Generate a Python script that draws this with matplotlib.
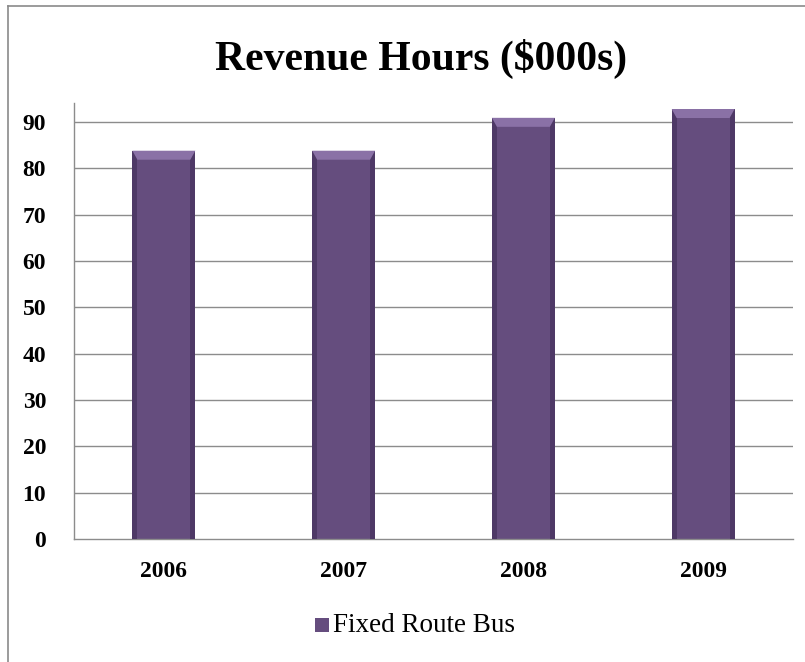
import matplotlib
matplotlib.use("Agg")
import matplotlib.pyplot as plt
from matplotlib.patches import Polygon, Rectangle
from matplotlib.lines import Line2D

years = ["2006", "2007", "2008", "2009"]
fixed_route_bus = [83.8, 83.8, 90.9, 92.8]
y_ticks = [0, 10, 20, 30, 40, 50, 60, 70, 80, 90]
series_name = "Fixed Route Bus"
title = "Revenue Hours ($000s)"

serif = ["Liberation Serif", "DejaVu Serif"]
bar_face = "#654D7E"
bar_side = "#4E3966"
bar_top = "#8A71A6"
grid_col = "#8C8C8C"

fig = plt.figure(figsize=(8.05, 6.62), dpi=100)
fig.patch.set_facecolor("white")

# chart-area frame (left and top edges)
fig.add_artist(Line2D([8 / 805, 8 / 805], [0, 1 - 6 / 662], transform=fig.transFigure,
                      color="#8A8A8A", lw=1.2))
fig.add_artist(Line2D([8 / 805, 1], [1 - 6 / 662, 1 - 6 / 662], transform=fig.transFigure,
                      color="#8A8A8A", lw=1.2))

ax = fig.add_axes([74 / 805, 1 - 539 / 662, (793 - 74) / 805, (539 - 103) / 662])
x = list(range(len(years)))
width = 0.35
ax.set_xlim(-0.5, len(years) - 0.5)
ax.set_ylim(0, 94.1)

for t in y_ticks[1:]:
    ax.axhline(t, color=grid_col, lw=1.0, zorder=0)

bars = ax.bar(x, fixed_route_bus, width=width, color=bar_face, zorder=2)

# bevel shading derived from each bar's geometry
dx_unit = len(years) / (793 - 74)
dy_unit = 94.1 / (539 - 103)
side = 5 * dx_unit
bevel = 9 * dy_unit
for b in bars:
    x0 = b.get_x()
    x1 = x0 + b.get_width()
    h = b.get_height()
    ax.add_patch(Rectangle((x0, 0), side, h, color=bar_side, lw=0, zorder=3))
    ax.add_patch(Rectangle((x1 - side, 0), side, h, color=bar_side, lw=0, zorder=3))
    ax.add_patch(Polygon([(x0, h), (x1, h), (x1 - side, h - bevel), (x0 + side, h - bevel)],
                         closed=True, color=bar_top, lw=0, zorder=4))

ax.set_xticks(x)
ax.set_xticklabels(years, fontfamily=serif, fontweight="bold", fontsize=17)
ax.set_yticks(y_ticks)
ax.set_yticklabels([str(t) for t in y_ticks], fontfamily=serif, fontweight="bold", fontsize=17)
ax.tick_params(axis="both", length=0)
ax.tick_params(axis="x", pad=16)
ax.tick_params(axis="y", pad=20)

for s in ["top", "right"]:
    ax.spines[s].set_visible(False)
ax.spines["left"].set_color(grid_col)
ax.spines["bottom"].set_color(grid_col)
ax.spines["left"].set_linewidth(1.0)
ax.spines["bottom"].set_linewidth(1.0)

fig.text(421 / 805, 1 - 59 / 662, title, ha="center", va="center",
         fontfamily=serif, fontweight="bold", fontsize=30)

# legend
fig.add_artist(Rectangle((315 / 805, 1 - 632 / 662), 14 / 805, 14 / 662,
                         transform=fig.transFigure, color=bar_face, lw=0))
fig.text(333 / 805, 1 - 625 / 662, series_name, ha="left", va="center",
         fontfamily=serif, fontsize=19.5)

fig.savefig("out.png", dpi=100, facecolor="white")
